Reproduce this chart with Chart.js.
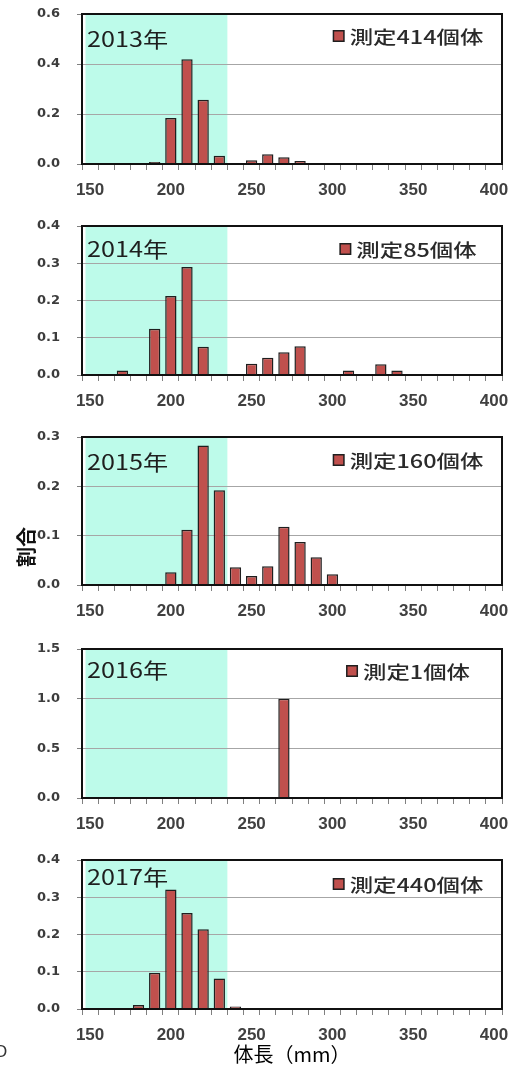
<!DOCTYPE html>
<html>
<head>
<meta charset="utf-8">
<script src="https://cdn.jsdelivr.net/npm/chart.js@4.4.1/dist/chart.umd.min.js"></script>
<style>
  html, body { margin: 0; padding: 0; background: #fff; width: 509px; height: 1066px; overflow: hidden; position: relative; }
  canvas { position: absolute; left: 0; }
</style>
</head>
<body>
<script>
// Body-length classes (mm) on the category axis
const lengthClasses = ['150','160','170','180','190','200','210','220','230','240','250','260','270','280','290','300','310','320','330','340','350','360','370','380','390','400'];
const labelledClasses = ['150','200','250','300','350','400'];
// classes covered by the shaded band
const shadedClasses = ['150','230'];

const years = ['2013年','2014年','2015年','2016年','2017年'];
const sampleLabels = ['測定414個体','測定85個体','測定160個体','測定1個体','測定440個体'];

// share of measured fish in each length class
const share2013 = [0,0,0,0,0.008,0.184,0.419,0.257,0.033,0,0.015,0.039,0.027,0.012,0,0,0,0,0,0,0,0,0,0,0,0];
const share2014 = [0,0,0.012,0,0.124,0.212,0.290,0.076,0,0,0.030,0.046,0.061,0.077,0,0,0.012,0,0.029,0.012,0,0,0,0,0,0];
const share2015 = [0,0,0,0,0,0.026,0.112,0.283,0.192,0.036,0.018,0.038,0.118,0.087,0.056,0.022,0,0,0,0,0,0,0,0,0,0];
const share2016 = [0,0,0,0,0,0,0,0,0,0,0,0,1.0,0,0,0,0,0,0,0,0,0,0,0,0,0];
const share2017 = [0,0,0,0.011,0.097,0.321,0.258,0.214,0.082,0.007,0,0,0,0,0,0,0,0,0,0,0,0,0,0,0,0];
const shares = [share2013, share2014, share2015, share2016, share2017];

const yMax = [0.6, 0.4, 0.3, 1.5, 0.4];
const yStep = [0.2, 0.1, 0.1, 0.5, 0.1];

// panel geometry
const panelTop = [14, 226, 437, 649, 860];
const plotHeight = [150, 149, 148, 149, 149];
const canvasHeight = [211, 211, 211, 211, 225];
const yearDy = [25, 23, 25, 21, 17];
const legendDy = [22, 23, 23, 22, 24];
const TOP_PAD = 10;

const BAR_FILL = '#C0504D';
const BAR_EDGE = '#1f1f1f';

function stretchedText(ctx, text, x, y, sx) {
  ctx.save();
  ctx.translate(x, y);
  ctx.scale(sx, 1);
  ctx.fillText(text, 0, 0);
  ctx.restore();
}

const panelDecor = {
  id: 'panelDecor',
  beforeDraw(chart) {
    const { ctx, chartArea: a, scales: { x } } = chart;
    const half = (x.getPixelForValue(1) - x.getPixelForValue(0)) / 2;
    const x0 = x.getPixelForValue(lengthClasses.indexOf(shadedClasses[0])) - half + 3.5;
    const x1 = x.getPixelForValue(lengthClasses.indexOf(shadedClasses[1])) + half;
    ctx.save();
    ctx.fillStyle = '#BDFBEA';
    ctx.fillRect(x0, a.top, x1 - x0, a.bottom - a.top);
    ctx.restore();
  },
  afterDatasetsDraw(chart, args, opts) {
    const { ctx, chartArea: a } = chart;
    ctx.save();
    // plot frame
    ctx.strokeStyle = '#111';
    ctx.lineWidth = 2;
    ctx.strokeRect(a.left, a.top, a.right - a.left, a.bottom - a.top);

    // year caption
    ctx.fillStyle = '#1e1e1e';
    ctx.textBaseline = 'middle';
    ctx.textAlign = 'left';
    ctx.font = '21px "Noto Sans CJK JP"';
    stretchedText(ctx, opts.year, a.left + 5, a.top + opts.yearDy, 1.2);

    // legend
    const ds = chart.data.datasets[0];
    ctx.font = '500 18px "Noto Sans CJK JP"';
    const sx = 1.3;
    const tw = ctx.measureText(ds.label).width * sx;
    const box = 12, gap = 5;
    const cx = a.right - 94;
    const cy = a.top + opts.legendDy;
    const left = cx - (box + gap + tw) / 2;
    ctx.fillStyle = BAR_EDGE;
    ctx.fillRect(left, cy - box / 2, box, box);
    ctx.fillStyle = BAR_FILL;
    ctx.fillRect(left + 1.5, cy - box / 2 + 1.5, box - 3, box - 3);
    ctx.fillStyle = '#2a2a2a';
    stretchedText(ctx, ds.label, left + box + gap, cy + 1, sx);

    // shared y-axis title
    if (opts.yTitle) {
      ctx.translate(26, opts.yTitleY);
      ctx.rotate(-Math.PI / 2);
      ctx.textAlign = 'center';
      ctx.fillStyle = '#111';
      ctx.font = 'bold 20px "Noto Sans CJK JP"';
      ctx.fillText(opts.yTitle, 0, 0);
    }
    ctx.restore();

    if (opts.edgeMark) {
      ctx.save();
      ctx.fillStyle = '#333';
      ctx.font = '17px "Liberation Sans"';
      ctx.textBaseline = 'middle';
      ctx.fillText(opts.edgeMark, -6, opts.edgeMarkY);
      ctx.restore();
    }
  }
};

years.forEach((year, i) => {
  const canvas = document.createElement('canvas');
  const top = panelTop[i] - TOP_PAD;
  canvas.width = 509;
  canvas.height = canvasHeight[i];
  canvas.style.top = top + 'px';
  document.body.appendChild(canvas);
  const isLast = i === years.length - 1;

  new Chart(canvas, {
    type: 'bar',
    data: {
      labels: lengthClasses,
      datasets: [{
        label: sampleLabels[i],
        data: shares[i],
        backgroundColor: BAR_FILL,
        borderColor: BAR_EDGE,
        borderWidth: 1.5,
        borderSkipped: 'bottom',
        barPercentage: 0.7,
        categoryPercentage: 1.0
      }]
    },
    options: {
      responsive: false,
      animation: false,
      events: [],
      layout: { padding: { top: TOP_PAD, right: 7, left: 0, bottom: 0 } },
      plugins: {
        legend: { display: false },
        tooltip: { enabled: false },
        panelDecor: {
          year: year,
          yearDy: yearDy[i],
          legendDy: legendDy[i],
          yTitle: i === 2 ? '割合' : null,
          yTitleY: 547 - top,
          edgeMark: isLast ? 'O' : null,
          edgeMarkY: 1052 - top
        }
      },
      scales: {
        x: {
          type: 'category',
          offset: true,
          border: { display: false },
          grid: { offset: true, drawOnChartArea: false, drawTicks: true, tickLength: 6, tickColor: '#808080', lineWidth: 1 },
          ticks: {
            autoSkip: false, maxRotation: 0, minRotation: 0, padding: 10,
            color: '#404040',
            font: { family: 'Liberation Sans', weight: 'bold', size: 17 },
            callback: (v, idx) => labelledClasses.includes(lengthClasses[idx]) ? lengthClasses[idx] : ''
          },
          title: {
            display: isLast,
            text: '体長（mm）',
            color: '#000',
            font: { family: 'Noto Sans CJK JP', size: 20 },
            padding: { top: 0, bottom: 9 }
          },
          afterFit(s) {
            s.height = canvasHeight[i] - TOP_PAD - plotHeight[i];
            s.paddingLeft = 0;
            s.paddingRight = 0;
          }
        },
        y: {
          min: 0,
          max: yMax[i],
          border: { display: false },
          grid: { color: '#a6a6a6', lineWidth: 1, drawTicks: true, tickLength: 5, tickColor: '#808080' },
          ticks: {
            stepSize: yStep[i],
            padding: 17,
            color: '#3c3c3c',
            font: { family: 'DejaVu Sans', weight: 'bold', size: 13 },
            callback: v => Number(v).toFixed(1)
          },
          afterFit(s) {
            s.width = 82;
            s.paddingTop = 0;
            s.paddingBottom = 0;
          }
        }
      }
    },
    plugins: [panelDecor]
  });
});
</script>
</body>
</html>
